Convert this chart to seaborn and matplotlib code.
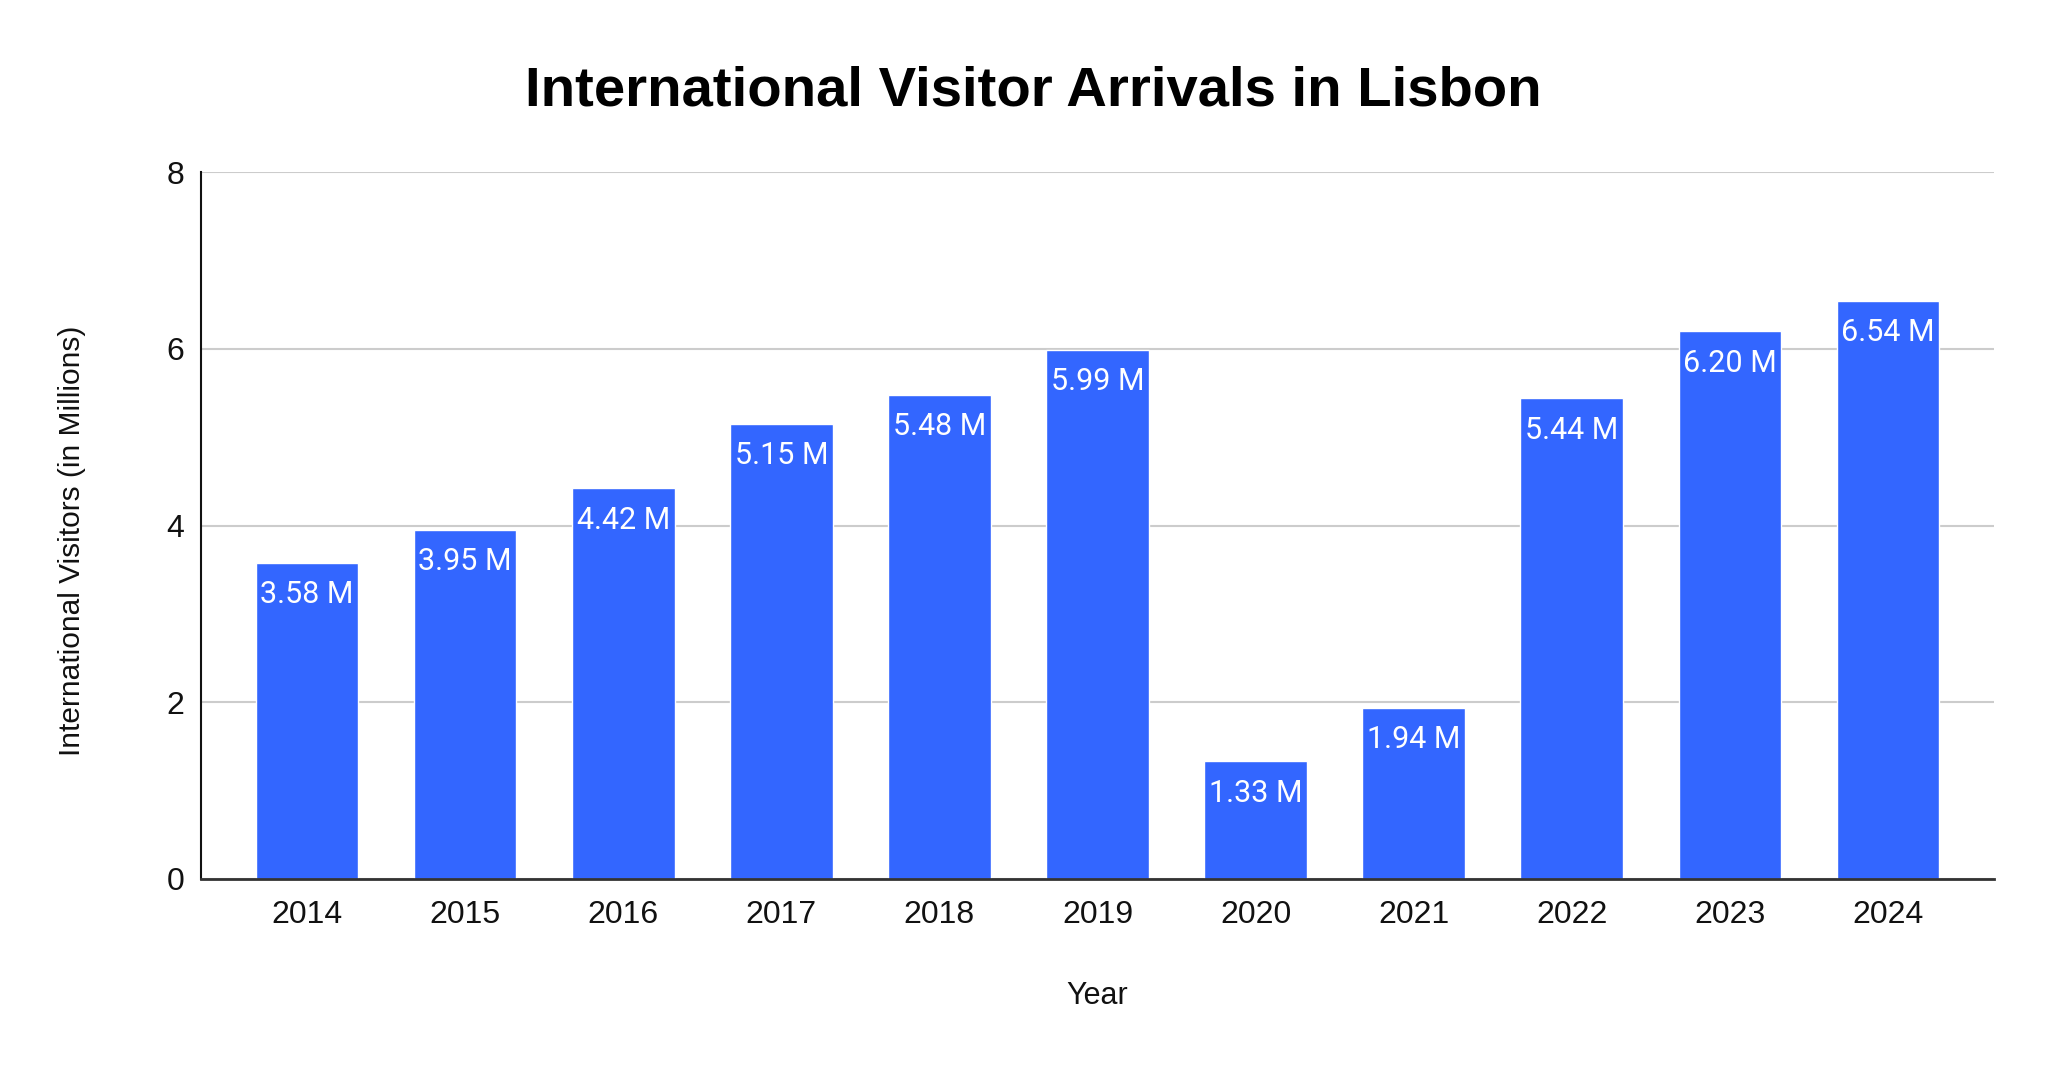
import numpy as np
import pandas as pd
import matplotlib
matplotlib.use('Agg')
import matplotlib.pyplot as plt
import seaborn as sns

YEARS = ['2014', '2015', '2016', '2017', '2018', '2019', '2020', '2021', '2022', '2023', '2024']
VISITORS = [3.58, 3.95, 4.42, 5.15, 5.48, 5.99, 1.33, 1.94, 5.44, 6.20, 6.54]
Y_TICKS = [0, 2, 4, 6, 8]

BAR_COLOR = '#3366ff'


def main():
    sns.set_style('white')
    plt.rcParams['font.family'] = ['Liberation Sans', 'DejaVu Sans']

    df = pd.DataFrame({'Year': YEARS, 'Visitors': VISITORS})

    fig = plt.figure(figsize=(20.48, 10.65), dpi=100)
    ax = fig.add_axes([201 / 2048, 1 - 879 / 1065, (1994 - 201) / 2048, (879 - 172) / 1065])

    sns.barplot(data=df, x='Year', y='Visitors', color=BAR_COLOR, saturation=1,
                width=0.65, ax=ax, zorder=3)

    # value labels inside the top of each bar
    for patch, v in zip(ax.patches, VISITORS):
        ax.annotate(f'{v:.2f} M', (patch.get_x() + patch.get_width() / 2, patch.get_height()),
                    xytext=(0, -23), textcoords='offset points', ha='center', va='center',
                    color='white', fontsize=22, family=['Roboto', 'DejaVu Sans'], zorder=4)

    ax.set_xlim(-0.67, 10.67)
    ax.set_ylim(0, 8)
    ax.set_yticks(Y_TICKS)
    ax.yaxis.grid(True, color='#cccccc', linewidth=1.5, zorder=0)
    ax.xaxis.grid(False)
    ax.tick_params(axis='both', length=0, labelsize=23, colors='#111111')
    ax.tick_params(axis='x', pad=15)
    ax.tick_params(axis='y', pad=12)

    for side in ['top', 'right']:
        ax.spines[side].set_visible(False)
    ax.spines['left'].set_color('#111111')
    ax.spines['left'].set_linewidth(1.5)
    ax.spines['bottom'].set_color('#333333')
    ax.spines['bottom'].set_linewidth(2)
    ax.spines['left'].set_zorder(5)
    ax.spines['bottom'].set_zorder(5)

    ax.set_xlabel('Year', fontsize=22, color='#111111')
    ax.set_ylabel('International Visitors (in Millions)', fontsize=21.5, color='#111111')
    ax.xaxis.set_label_coords(0.5, -0.165)
    ax.xaxis.label.set_va('center')
    ax.yaxis.set_label_coords(-0.072, 0.478)
    ax.yaxis.label.set_va('center')

    fig.suptitle('International Visitor Arrivals in Lisbon', fontsize=40.5, fontweight='bold',
                 color='black', x=0.5044, y=1 - 91 / 1065, va='center')

    plt.savefig('out.png', dpi=100)


if __name__ == '__main__':
    main()
